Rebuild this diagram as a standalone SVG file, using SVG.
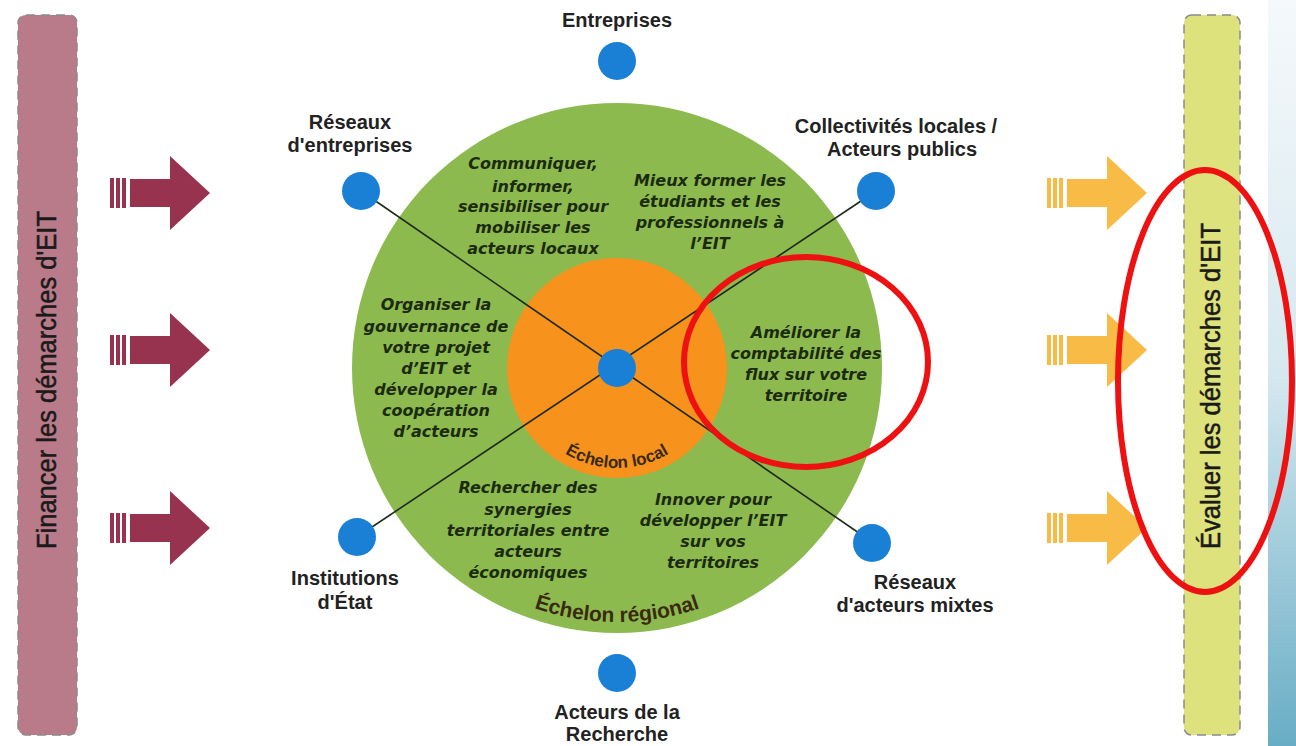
<svg xmlns="http://www.w3.org/2000/svg" width="1296" height="746" viewBox="0 0 1296 746">
  <defs>
    <linearGradient id="edgeFade" x1="0" y1="0" x2="0" y2="1">
      <stop offset="0" stop-color="#f5f9fb"/>
      <stop offset="0.5" stop-color="#d6e8ef"/>
      <stop offset="1" stop-color="#68adc5"/>
    </linearGradient>
    <!-- striped block arrow: three bars, shaft, head; origin at left edge, vertical centre -->
    <g id="arrow">
      <rect x="0" y="-15" width="4" height="30"/>
      <rect x="6" y="-15" width="4" height="30"/>
      <rect x="12" y="-15" width="4" height="30"/>
      <rect x="20" y="-14" width="42" height="28"/>
      <polygon points="60,-37 100,0 60,37"/>
    </g>
    <path id="arcLocal" d="M 517,368 A 100,100 0 0 0 717,368"/>
    <path id="arcRegional" d="M 363,368 A 254,254 0 0 0 871,368"/>
  </defs>
  <style>
    .bar { stroke: #8a8a8a; stroke-width: 1.5; stroke-dasharray: 9 6; }
    .barText { font-family: "Liberation Sans", Arial, sans-serif; font-size: 27px; fill: #1a1a1a; stroke: #1a1a1a; stroke-width: 0.5; }
    .node { fill: #1a80d6; }
    .label { font-family: "Liberation Sans", Arial, sans-serif; font-weight: bold; font-size: 20px; fill: #222; text-anchor: middle; }
    .theme { font-family: "DejaVu Sans", Verdana, sans-serif; font-weight: bold; font-style: italic; font-size: 16px; fill: #1c2a10; text-anchor: middle; }
    .arc { font-family: "Liberation Sans", Arial, sans-serif; font-weight: bold; fill: #3a2a10; }
    .link { stroke: #1e2a18; stroke-width: 1.6; fill: none; }
    .mark { fill: none; stroke: #ee1111; stroke-width: 6; }
  </style>

  <rect width="1296" height="746" fill="#ffffff"/>
  <rect x="1268" y="0" width="28" height="746" fill="url(#edgeFade)"/>

  <!-- funding side -->
  <g id="financer">
    <rect class="bar" x="18" y="15" width="59" height="720" rx="8" fill="#b97b8a"/>
    <text class="barText" transform="translate(56,380) rotate(-90)" text-anchor="middle" textLength="338" lengthAdjust="spacingAndGlyphs">Financer les démarches d'EIT</text>
  </g>
  <g id="arrows-in" fill="#97334f">
    <use href="#arrow" x="110" y="193"/>
    <use href="#arrow" x="110" y="350"/>
    <use href="#arrow" x="110" y="528"/>
  </g>

  <!-- evaluation side -->
  <g id="evaluer">
    <rect class="bar" x="1184" y="15" width="56" height="720" rx="8" fill="#dee27d"/>
    <text class="barText" transform="translate(1220,386) rotate(-90)" text-anchor="middle" textLength="326" lengthAdjust="spacingAndGlyphs">Évaluer les démarches d'EIT</text>
  </g>
  <g id="arrows-out" fill="#f8bb45">
    <use href="#arrow" x="1047" y="193"/>
    <use href="#arrow" x="1047" y="350"/>
    <use href="#arrow" x="1047" y="528"/>
  </g>

  <!-- concentric levels -->
  <g id="echelon-regional">
    <circle cx="617" cy="368" r="265" fill="#8cba4f"/>
    <text class="arc" font-size="21"><textPath href="#arcRegional" startOffset="50%" text-anchor="middle">Échelon régional</textPath></text>
  </g>
  <g id="echelon-local">
    <circle cx="617" cy="368" r="110" fill="#f7931d"/>
    <text class="arc" font-size="17"><textPath href="#arcLocal" startOffset="50%" text-anchor="middle">Échelon local</textPath></text>
  </g>

  <!-- connectors between actors -->
  <g id="connectors">
    <line class="link" x1="361" y1="191" x2="872" y2="542"/>
    <line class="link" x1="876" y1="191" x2="357" y2="537"/>
  </g>

  <!-- themes -->
  <g id="theme-communiquer">
    <text class="theme" x="533" y="169">Communiquer,</text>
    <text class="theme" x="533" y="192">informer,</text>
    <text class="theme" x="533" y="212">sensibiliser pour</text>
    <text class="theme" x="533" y="233">mobiliser les</text>
    <text class="theme" x="533" y="254">acteurs locaux</text>
  </g>
  <g id="theme-former">
    <text class="theme" x="710" y="186">Mieux former les</text>
    <text class="theme" x="710" y="207">étudiants et les</text>
    <text class="theme" x="710" y="228">professionnels à</text>
    <text class="theme" x="710" y="249">l’EIT</text>
  </g>
  <g id="theme-gouvernance">
    <text class="theme" x="436" y="310">Organiser la</text>
    <text class="theme" x="436" y="332">gouvernance de</text>
    <text class="theme" x="436" y="353">votre projet</text>
    <text class="theme" x="436" y="374">d’EIT et</text>
    <text class="theme" x="436" y="395">développer la</text>
    <text class="theme" x="436" y="416">coopération</text>
    <text class="theme" x="436" y="437">d’acteurs</text>
  </g>
  <g id="theme-comptabilite">
    <text class="theme" x="806" y="338">Améliorer la</text>
    <text class="theme" x="806" y="359">comptabilité des</text>
    <text class="theme" x="806" y="380">flux sur votre</text>
    <text class="theme" x="806" y="401">territoire</text>
  </g>
  <g id="theme-synergies">
    <text class="theme" x="528" y="493">Rechercher des</text>
    <text class="theme" x="528" y="515">synergies</text>
    <text class="theme" x="528" y="536">territoriales entre</text>
    <text class="theme" x="528" y="557">acteurs</text>
    <text class="theme" x="528" y="578">économiques</text>
  </g>
  <g id="theme-innover">
    <text class="theme" x="713" y="505">Innover pour</text>
    <text class="theme" x="713" y="526">développer l’EIT</text>
    <text class="theme" x="713" y="547">sur vos</text>
    <text class="theme" x="713" y="568">territoires</text>
  </g>

  <!-- actors -->
  <g id="centre"><circle class="node" cx="617" cy="368" r="19"/></g>
  <g id="entreprises">
    <circle class="node" cx="617" cy="61" r="19"/>
    <text class="label" x="617" y="27">Entreprises</text>
  </g>
  <g id="reseaux-entreprises">
    <circle class="node" cx="361" cy="191" r="19"/>
    <text class="label" x="350" y="129">Réseaux</text>
    <text class="label" x="350" y="152">d'entreprises</text>
  </g>
  <g id="collectivites">
    <circle class="node" cx="876" cy="191" r="19"/>
    <text class="label" x="896" y="133">Collectivités locales /</text>
    <text class="label" x="902" y="156">Acteurs publics</text>
  </g>
  <g id="institutions">
    <circle class="node" cx="357" cy="537" r="19"/>
    <text class="label" x="345" y="585">Institutions</text>
    <text class="label" x="345" y="609">d'État</text>
  </g>
  <g id="reseaux-mixtes">
    <circle class="node" cx="872" cy="543" r="19"/>
    <text class="label" x="915" y="589">Réseaux</text>
    <text class="label" x="915" y="612">d'acteurs mixtes</text>
  </g>
  <g id="recherche">
    <circle class="node" cx="617" cy="673" r="19"/>
    <text class="label" x="617" y="719">Acteurs de la</text>
    <text class="label" x="617" y="741">Recherche</text>
  </g>

  <!-- highlight rings -->
  <g id="highlights">
    <ellipse class="mark" cx="806" cy="362" rx="122" ry="105"/>
    <ellipse class="mark" cx="1205" cy="381" rx="87" ry="211"/>
  </g>
</svg>
